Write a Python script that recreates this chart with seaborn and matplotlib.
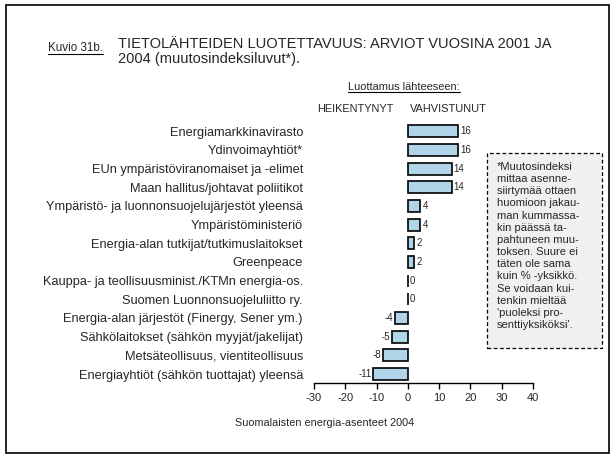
import numpy as np
import pandas as pd
import matplotlib
matplotlib.use("Agg")
import matplotlib.pyplot as plt
from matplotlib.patches import Rectangle
from matplotlib.lines import Line2D
import seaborn as sns

# data
categories = [
    "Energiamarkkinavirasto",
    "Ydinvoimayhtiöt*",
    "EUn ympäristöviranomaiset ja -elimet",
    "Maan hallitus/johtavat poliitikot",
    "Ympäristö- ja luonnonsuojelujärjestöt yleensä",
    "Ympäristöministeriö",
    "Energia-alan tutkijat/tutkimuslaitokset",
    "Greenpeace",
    "Kauppa- ja teollisuusminist./KTMn energia-os.",
    "Suomen Luonnonsuojeluliitto ry.",
    "Energia-alan järjestöt (Finergy, Sener ym.)",
    "Sähkölaitokset (sähkön myyjät/jakelijat)",
    "Metsäteollisuus, vientiteollisuus",
    "Energiayhtiöt (sähkön tuottajat) yleensä",
]
values = [16, 16, 14, 14, 4, 4, 2, 2, 0, 0, -4, -5, -8, -11]
xticks = [-30, -20, -10, 0, 10, 20, 30, 40]

title = "TIETOLÄHTEIDEN LUOTETTAVUUS: ARVIOT VUOSINA 2001 JA\n2004 (muutosindeksiluvut*)."
note = ("*Muutosindeksi\nmittaa asenne-\nsiirtymää ottaen\nhuomioon jakau-\nman kummassa-\n"
        "kin päässä ta-\npahtuneen muu-\ntoksen. Suure ei\ntäten ole sama\nkuin % -yksikkö.\n"
        "Se voidaan kui-\ntenkin mieltää\n'puoleksi pro-\nsenttiyksiköksi'.")

df = pd.DataFrame({"lahde": categories, "muutos": values})

sns.set_style("white")
plt.rcParams["font.family"] = ["Liberation Sans", "DejaVu Sans"]

W, H = 613, 459
fig = plt.figure(figsize=(W / 100, H / 100), dpi=100)
ax = fig.add_axes([314 / W, 76 / H, 219 / W, 263 / H])

sns.barplot(data=df, x="muutos", y="lahde", orient="h", color="#b0d4e8",
            saturation=1, edgecolor="black", linewidth=1.2, width=0.64, ax=ax)
for c in ax.containers:
    ax.bar_label(c, padding=1.5, fontsize=7)

ax.set_xlim(-30, 40)
ax.set_ylim(13.48, -0.6)
ax.set_xticks(xticks)
ax.set_xticklabels([str(t) for t in xticks], fontsize=8)
ax.tick_params(axis="x", bottom=True, direction="out", length=4, width=1,
               color="black", pad=3)
ax.tick_params(axis="y", left=False, length=0, labelsize=9.2, pad=8)
ax.set_xlabel("")
ax.set_ylabel("")
for s in ["left", "top", "right"]:
    ax.spines[s].set_visible(False)
ax.spines["bottom"].set_color("black")
ax.spines["bottom"].set_linewidth(1)

# headings
t_kuvio = fig.text(48 / W, 1 - 51 / H, "Kuvio 31b.", fontsize=8.4, va="baseline")
fig.text(118 / W, 1 - 37 / H, title, fontsize=10.5, va="top", linespacing=1.05)
t_luott = fig.text(404 / W, 1 - 90 / H, "Luottamus lähteeseen:", fontsize=7.9,
                   ha="center", va="baseline")
fig.text(355 / W, 1 - 112 / H, "HEIKENTYNYT", fontsize=7.9, ha="center", va="baseline")
fig.text(448 / W, 1 - 112 / H, "VAHVISTUNUT", fontsize=7.9, ha="center", va="baseline")
fig.text(325 / W, 1 - 426 / H, "Suomalaisten energia-asenteet 2004", fontsize=7.8,
         ha="center", va="baseline")

# note box
fig.patches.append(Rectangle((487 / W, 1 - 348 / H), 115 / W, 195 / H,
                             transform=fig.transFigure, facecolor="#f0f0f0",
                             edgecolor="black", linestyle=(0, (3, 2)), linewidth=0.9))
fig.text(497 / W, 1 - 162 / H, note, fontsize=8, va="top", ha="left", linespacing=1.27)

# outer frame
fig.patches.append(Rectangle((6 / W, 1 - 453 / H), 603 / W, 448 / H,
                             transform=fig.transFigure, facecolor="none",
                             edgecolor="black", linewidth=1.2))

# underline a couple of texts
fig.canvas.draw()
r = fig.canvas.get_renderer()
for t in [t_kuvio, t_luott]:
    bb = t.get_window_extent(r)
    y = bb.y0 + 0.5
    fig.lines.append(Line2D([bb.x0, bb.x1], [y, y], transform=None,
                            color="black", linewidth=0.8))

fig.savefig("out.png", dpi=100)
